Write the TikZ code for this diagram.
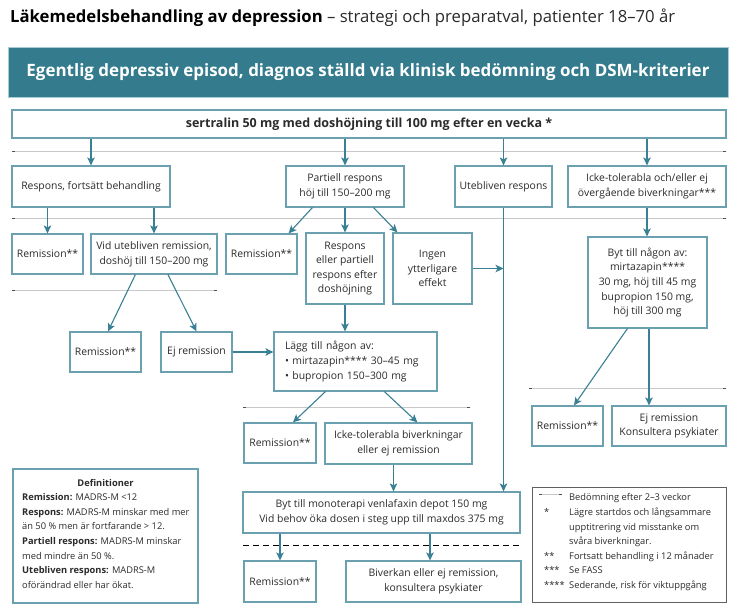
\documentclass[tikz,border=0pt]{standalone}
\usepackage{fontspec}
\setmainfont{Open Sans}
\usepackage{graphicx}
\usetikzlibrary{arrows.meta,calc}
\definecolor{headc}{HTML}{337B8D}
\definecolor{headl}{HTML}{A8CCD6}
\definecolor{boxc}{HTML}{6AA0AF}
\definecolor{arrc}{HTML}{3A8094}
\definecolor{txt}{HTML}{2B2B2B}
\definecolor{sepc}{HTML}{C8C8C8}
\definecolor{tickc}{HTML}{505050}
\definecolor{legc}{HTML}{606060}
\newcommand\mysepline[3]{%
  \draw[sepln] (#2,#1) -- (#3,#1);
  \draw[tickln] (#2,#1) -- ++(3,0);
  \draw[tickln] (#3,#1) -- ++(-3,0);}
\begin{document}
\begin{tikzpicture}[x=1pt,y=-1pt,
  box/.style={draw=boxc,line width=1.2pt,fill=white,text=txt,align=center,inner sep=0pt,
    font=\fontsize{10.4}{14.6}\selectfont},
  arr/.style={draw=arrc,line width=1.1pt,-{Stealth[length=8pt,width=7.5pt,inset=2pt]}},
  sepln/.style={draw=sepc,line width=0.8pt},
  tickln/.style={draw=tickc,line width=0.8pt},
  small/.style={text=txt,font=\fontsize{9.3}{14.6}\selectfont,inner sep=0pt,align=left}
]
\useasboundingbox[fill=white] (0,0) rectangle (740,610);

% title
\node[anchor=base west,inner sep=0pt,text=black,font=\fontsize{16.7}{20}\selectfont] (title) at (10,22.5)
  {\textbf{Läkemedelsbehandling av depression} \textcolor{txt}{– strategi och preparatval, patienter 18–70 år}};

% header bar
\node[fill=headc,draw=headl,line width=0.8pt,minimum width=720,minimum height=50,inner sep=0pt,text=white] (head) at (368,72)
  {\resizebox{683pt}{\height}{\fontsize{17}{20}\selectfont\bfseries Egentlig depressiv episod, diagnos ställd via klinisk bedömning och DSM-kriterier}};

% separator lines
\mysepline{151}{12}{726}
\mysepline{218}{12}{726}
\mysepline{290}{12}{217}
\mysepline{388}{529}{726}
\mysepline{407}{243}{470}
\draw[black,line width=0.9pt,dash pattern=on 6pt off 4pt] (243,545) -- (520,545);

% boxes
\node[box,minimum width=714,minimum height=28,font=\fontsize{12.5}{15}\selectfont\bfseries] (sert) at (369,124)
  {sertralin 50 mg med doshöjning till 100 mg efter en vecka *};
\node[box,minimum width=158,minimum height=41] (resp) at (91,186.5) {Respons, fortsätt behandling};
\node[box,minimum width=118,minimum height=41] (part) at (345,186.5) {Partiell respons\\höj till 150–200 mg};
\node[box,minimum width=97,minimum height=41] (uteb) at (503.5,186.5) {Utebliven respons};
\node[box,minimum width=158,minimum height=41] (icke) at (647,186.5) {Icke-tolerabla och/eller ej\\övergående biverkningar***};

\node[box,minimum width=71,minimum height=40] (rem1) at (47.5,254) {Remission**};
\node[box,minimum width=126,minimum height=40] (vidut) at (154,254) {Vid utebliven remission,\\doshöj till 150–200 mg};
\node[box,minimum width=71,minimum height=40] (rem2) at (261.5,254) {Remission**};
\node[box,minimum width=78,minimum height=71] (respep) at (345,268.5) {Respons\\eller partiell\\respons efter\\doshöjning};
\node[box,minimum width=79,minimum height=71] (ingen) at (432.5,268.5) {Ingen\\ytterligare\\effekt};
\node[box,minimum width=119,minimum height=91] (bytn) at (647.5,282.5)
  {Byt till någon av:\\mirtazapin****\\30 mg, höj till 45 mg\\bupropion 150 mg,\\höj till 300 mg};

\node[box,minimum width=71,minimum height=40] (rem3) at (105.5,352) {Remission**};
\node[box,minimum width=71,minimum height=40] (ejrem) at (196.5,352) {Ej remission};
\node[box,minimum width=163,minimum height=59,text width=141pt,align=left] (lagg) at (355.5,361.5)
  {Lägg till någon av:\\• mirtazapin**** 30–45 mg\\• bupropion 150–300 mg};

\node[box,minimum width=71,minimum height=40] (rem5) at (567.5,426) {Remission**};
\node[box,minimum width=114,minimum height=40] (ejkons) at (669,426) {Ej remission\\Konsultera psykiater};

\node[box,minimum width=72,minimum height=40] (rem4) at (280,443) {Remission**};
\node[box,minimum width=147,minimum height=41] (ickebiv) at (398.5,443.5) {Icke-tolerabla biverkningar\\eller ej remission};

\node[box,minimum width=277,minimum height=41] (mono) at (381.5,512.5)
  {Byt till monoterapi venlafaxin depot 150 mg\\Vid behov öka dosen i steg upp till maxdos 375 mg};
\node[box,minimum width=72,minimum height=41] (rem6) at (280,581.5) {Remission**};
\node[box,minimum width=175,minimum height=41] (biverk) at (433.5,581.5) {Biverkan eller ej remission,\\konsultera psykiater};

% definitions box
\node[draw=boxc,line width=1.2pt,minimum width=185,minimum height=134,inner sep=0pt] (defs) at (105.5,536) {};
\node[small,font=\fontsize{9.3}{14.6}\selectfont\bfseries] (defh) at (105.5,483) {Definitioner};
\node[small,anchor=north west] (defb) at (22,493.5)
  {\textbf{Remission:} MADRS-M <12\\
   \textbf{Respons:} MADRS-M minskar med mer\\
   än 50 \% men är fortfarande > 12.\\
   \textbf{Partiell respons:} MADRS-M minskar\\
   med mindre än 50 \%.\\
   \textbf{Utebliven respons:} MADRS-M\\
   oförändrad eller har ökat.};

% legend box
\node[draw=legc,line width=1pt,minimum width=194,minimum height=115,inner sep=0pt] (leg) at (629,544.5) {};
\mysepline{494}{539}{562}
\node[small,anchor=north west] (legb) at (544,493.5)
  {\makebox[25pt][l]{}Bedömning efter 2–3 veckor\\
   \makebox[25pt][l]{*}Lägre startdos och långsammare\\
   \makebox[25pt][l]{}upptitrering vid misstanke om\\
   \makebox[25pt][l]{}svåra biverkningar.\\
   \makebox[25pt][l]{**}Fortsatt behandling i 12 månader\\
   \makebox[25pt][l]{***}Se FASS\\
   \makebox[25pt][l]{****}Sederande, risk för viktuppgång};

% connectors
\draw[arr] (sert.south -| resp) -- (resp.north);
\draw[arr] (sert.south -| part) -- (part.north);
\draw[arr] (sert.south -| uteb) -- (uteb.north);
\draw[arr] (sert.south -| icke) -- (icke.north);

\draw[arr] (resp.south -| rem1) -- (rem1.north);
\draw[arr] (resp.south -| vidut) -- (vidut.north);
\draw[arr] ($(part.south west)+(27,0)$) -- ($(rem2.north east)+(-9,0)$);
\draw[arr] (part.south) -- (respep.north);
\draw[arr] ($(part.south east)+(-31,0)$) -- ($(ingen.north west)+(5,0)$);
\draw[arr] (uteb.south) -- (uteb.south |- mono.north);
\draw[arr] (ingen.east) -- (ingen.east -| uteb.south);
\draw[arr] (icke.south) -- (icke.south |- bytn.north);

\draw[arr] ($(vidut.south west)+(45,0)$) -- ($(rem3.north)+(2.5,0)$);
\draw[arr] ($(vidut.south)+(14,0)$) -- (ejrem.north);
\draw[arr] (ejrem.east) -- (ejrem.east -| lagg.west);
\draw[arr] (respep.south) -- (respep.south |- lagg.north);

\draw[arr] ($(lagg.south west)+(52,0)$) -- ($(rem4.north)+(13,0)$);
\draw[arr] ($(lagg.south west)+(111,0)$) -- ($(ickebiv.north west)+(93,0)$);
\draw[arr] ($(bytn.south west)+(40,0)$) -- ($(rem5.north)+(6.5,0)$);
\coordinate (bk) at ($(bytn.south)+(1.5,0)$);
\draw[arr] (bk) -- (bk |- ejkons.north);

\coordinate (ib) at ($(ickebiv.south)+(-5,0)$);
\draw[arr] (ib) -- (ib |- mono.north);
\draw[arr] (mono.south -| rem6.north) -- (rem6.north);
\coordinate (mb) at ($(mono.south)+(48.5,0)$);
\draw[arr] (mb) -- (mb |- biverk.north);
\end{tikzpicture}
\end{document}
